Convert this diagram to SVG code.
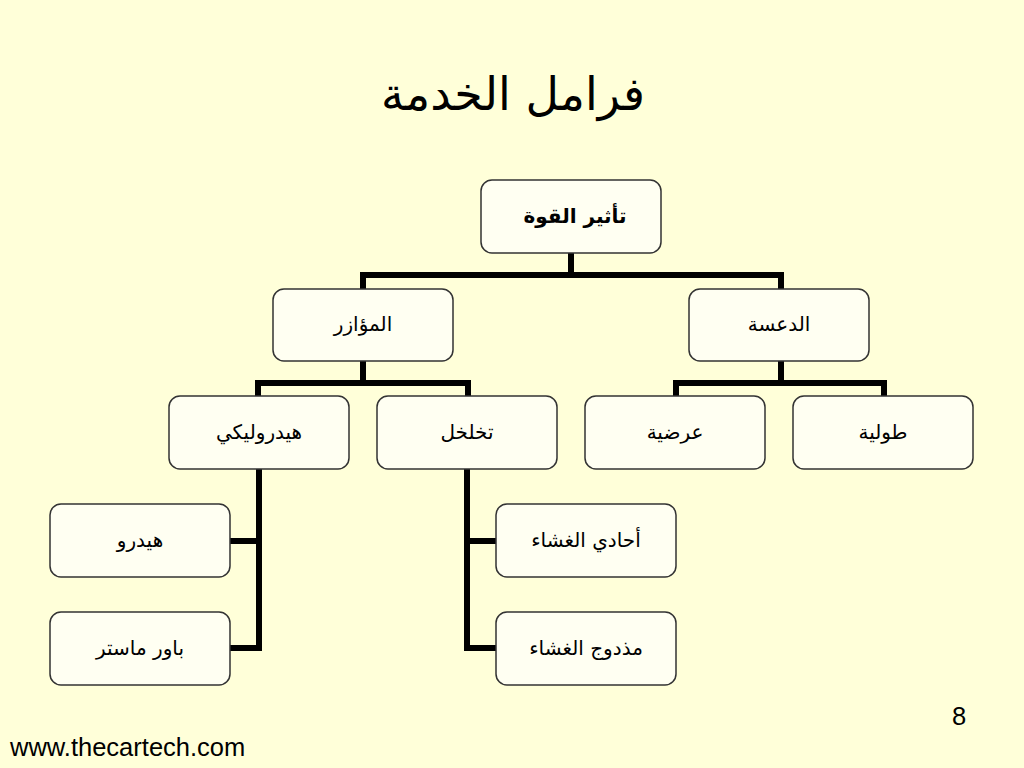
<svg xmlns="http://www.w3.org/2000/svg" width="1024" height="768" viewBox="0 0 1024 768">
<style>
.bg{fill:#FFFFD9}
.node rect{fill:#FFFFF2;stroke:#333;stroke-width:1.5}
.node text{font-family:"DejaVu Sans","Liberation Sans",sans-serif;font-size:20px;fill:#000;text-anchor:middle;direction:rtl}
.conn path{fill:none;stroke:#000;stroke-width:6;stroke-linejoin:miter}
.title{font-family:"DejaVu Sans","Liberation Sans",sans-serif;font-size:46px;text-anchor:middle;direction:rtl}
.foot{font-family:"Liberation Sans",Arial,sans-serif;font-size:25.5px}
</style>
<rect class="bg" x="0" y="0" width="1024" height="768"/>
<text class="title" x="513" y="110">فرامل الخدمة</text>
<g class="conn">
<path d="M571,253 V275 M363,289 V275 H781 V289"/>
<path d="M363,361 V383 M258,396 V383 H468 V396"/>
<path d="M781,361 V383 M676,396 V383 H884 V396"/>
<path d="M259,469 V648 H230 M259,541 H230"/>
<path d="M467,469 V648 H496 M467,541 H496"/>
</g>
<g id="n-top" class="node"><rect x="481" y="180" width="180" height="73" rx="11"/><text x="575" y="223" font-weight="bold" font-size="20">تأثير القوة</text></g>
<g id="n-muazir" class="node"><rect x="273" y="289" width="180" height="72" rx="11"/><text x="363" y="331">المؤازر</text></g>
<g id="n-dasa" class="node"><rect x="689" y="289" width="180" height="72" rx="11"/><text x="779" y="331">الدعسة</text></g>
<g id="n-hydraulic" class="node"><rect x="169" y="396" width="180" height="73" rx="11"/><text x="259" y="439">هيدروليكي</text></g>
<g id="n-vacuum" class="node"><rect x="377" y="396" width="180" height="73" rx="11"/><text x="467" y="439">تخلخل</text></g>
<g id="n-ardia" class="node"><rect x="585" y="396" width="180" height="73" rx="11"/><text x="675" y="439">عرضية</text></g>
<g id="n-tulia" class="node"><rect x="793" y="396" width="180" height="73" rx="11"/><text x="883" y="439">طولية</text></g>
<g id="n-hydro" class="node"><rect x="50" y="504" width="180" height="73" rx="11"/><text x="140" y="547">هيدرو</text></g>
<g id="n-power" class="node"><rect x="50" y="612" width="180" height="73" rx="11"/><text x="140" y="655">باور ماستر</text></g>
<g id="n-single" class="node"><rect x="496" y="504" width="180" height="73" rx="11"/><text x="586" y="547">أحادي الغشاء</text></g>
<g id="n-double" class="node"><rect x="496" y="612" width="180" height="73" rx="11"/><text x="586" y="655">مذدوج الغشاء</text></g>
<text class="foot" x="952" y="725" font-size="19">8</text>
<text class="foot" x="10" y="756">www.thecartech.com</text>
</svg>
